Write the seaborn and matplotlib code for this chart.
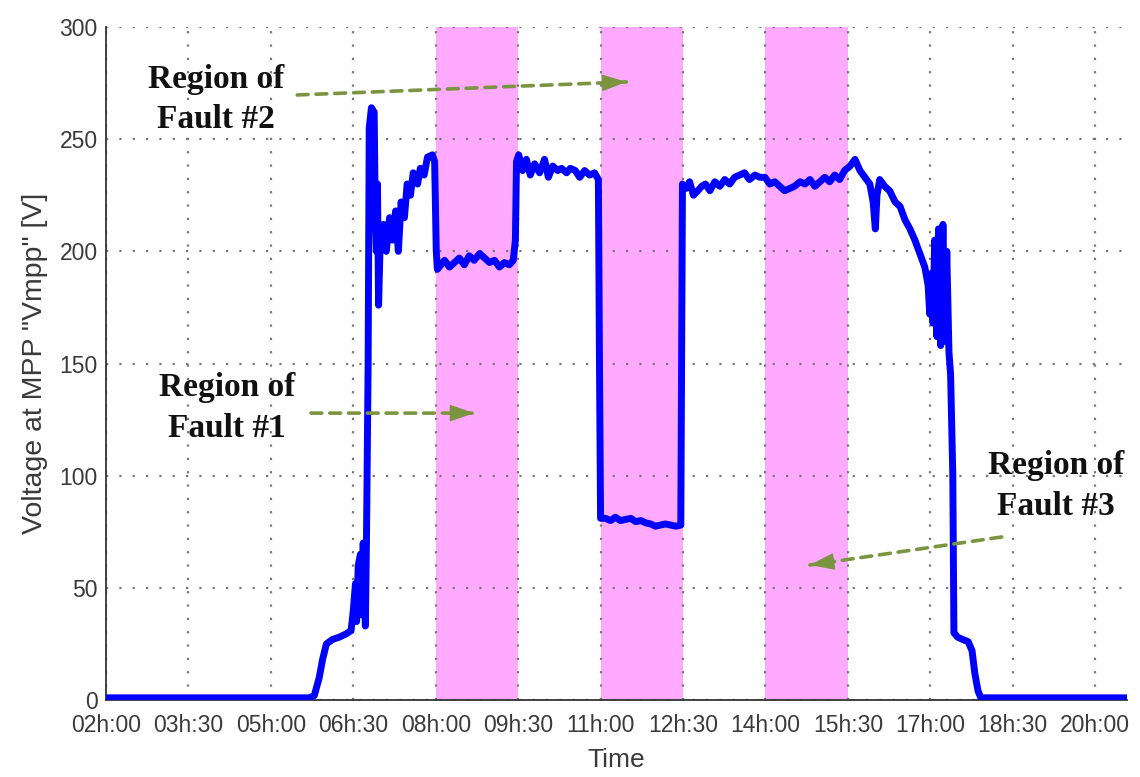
import matplotlib
matplotlib.use("Agg")
import matplotlib.pyplot as plt
import seaborn as sns
import pandas as pd

# Time of day in decimal hours and the measured MPP voltage
time_h = [
    2.00, 5.70, 5.79, 5.88, 5.94, 6.01, 6.12, 6.24, 6.37, 6.46,
    6.50, 6.54, 6.56, 6.59, 6.63, 6.65, 6.68, 6.72, 6.74, 6.77,
    6.79, 6.83, 6.88, 6.90, 6.92, 6.94, 6.96, 6.99, 7.05, 7.10,
    7.16, 7.21, 7.27, 7.32, 7.37, 7.43, 7.48, 7.54, 7.59, 7.67,
    7.72, 7.79, 7.85, 7.94, 7.98, 8.01, 8.03, 8.16, 8.25, 8.34,
    8.43, 8.52, 8.61, 8.70, 8.80, 8.89, 8.98, 9.07, 9.16, 9.25,
    9.34, 9.41, 9.45, 9.47, 9.51, 9.58, 9.65, 9.72, 9.80, 9.89,
    9.98, 10.05, 10.13, 10.22, 10.29, 10.38, 10.45, 10.54, 10.62, 10.71,
    10.80, 10.89, 10.96, 10.98, 11.00, 11.09, 11.18, 11.27, 11.36, 11.46,
    11.55, 11.64, 11.73, 11.82, 11.91, 12.00, 12.09, 12.18, 12.28, 12.37,
    12.46, 12.49, 12.55, 12.62, 12.69, 12.77, 12.84, 12.91, 12.99, 13.08,
    13.17, 13.26, 13.35, 13.44, 13.53, 13.62, 13.71, 13.81, 13.90, 13.99,
    14.08, 14.17, 14.26, 14.35, 14.44, 14.53, 14.63, 14.72, 14.81, 14.90,
    14.99, 15.08, 15.17, 15.26, 15.35, 15.44, 15.54, 15.63, 15.72, 15.81,
    15.90, 15.96, 16.00, 16.03, 16.08, 16.17, 16.26, 16.36, 16.45, 16.54,
    16.63, 16.72, 16.81, 16.90, 16.96, 16.99, 17.01, 17.05, 17.08, 17.12,
    17.15, 17.19, 17.23, 17.27, 17.30, 17.34, 17.37, 17.41, 17.43, 17.50,
    17.59, 17.69, 17.76, 17.81, 17.87, 17.92, 18.09, 20.58,
]
vmpp = [
    1, 1, 2, 10, 18, 25, 27, 28, 29.5, 31,
    40, 52, 35, 60, 65, 38, 70, 33, 72, 150,
    255, 264, 262, 215, 200, 230, 176, 205, 212, 200,
    215, 205, 218, 200, 222, 215, 230, 225, 235, 230,
    237, 234, 242, 243, 240, 200, 192, 196, 193, 195,
    197, 194, 198, 196, 199, 197, 195, 196, 193, 195,
    194, 196, 205, 240, 243, 236, 241, 234, 239, 235,
    241, 233, 238, 236, 237, 235, 237, 236, 233, 236,
    234, 235, 232, 150, 81, 81, 80, 81.5, 80, 80.5,
    81, 79.5, 80, 79, 78.5, 77.5, 78, 78.5, 78, 77.5,
    78, 230, 228, 231, 225, 227, 229, 230, 227, 231,
    229, 232, 230, 233, 234, 235, 232, 234, 233, 233,
    230, 231, 229, 227, 228, 229, 231, 230, 232, 229,
    231, 233, 231, 234, 232, 236, 238, 241, 236, 233,
    230, 222, 210, 225, 232, 229, 227, 222, 220, 214,
    210, 205, 199, 193, 185, 172, 190, 168, 205, 162,
    210, 158, 212, 160, 200, 155, 145, 100, 30, 28,
    27, 26, 22, 12, 4, 1, 1, 1,
]

# Fault windows (start, end) in hours
fault_windows = [(8.0, 9.5), (11.0, 12.5), (14.0, 15.5)]

# Axis ticks
x_ticks = [2.0, 3.5, 5.0, 6.5, 8.0, 9.5, 11.0, 12.5, 14.0, 15.5, 17.0, 18.5, 20.0]
x_tick_labels = ["02h:00", "03h:30", "05h:00", "06h:30", "08h:00", "09h:30",
                 "11h:00", "12h:30", "14h:00", "15h:30", "17h:00", "18h:30", "20h:00"]
y_ticks = [0, 50, 100, 150, 200, 250, 300]

# Annotations: label text, text position, arrow tail, arrow tip
annotations = [
    ("Region of\nFault #2", (4.00, 267.5), (5.48, 269.7), (11.47, 275.5)),
    ("Region of\nFault #1", (4.20, 130.2), (5.73, 127.9), (8.70, 127.9)),
    ("Region of\nFault #3", (19.29, 95.4), (18.30, 72.7), (14.81, 60.2)),
]

df = pd.DataFrame({"time": time_h, "vmpp": vmpp})

sns.set_theme(style="white")
plt.rcParams["font.family"] = ["Liberation Sans", "DejaVu Sans"]

fig = plt.figure(figsize=(11.4, 7.77), dpi=100)
ax = fig.add_axes([0.093, 0.099, 0.8956, 0.8663])

for start, end in fault_windows:
    ax.axvspan(start, end, color="#ffaaff", lw=0, zorder=0.3)

sns.lineplot(data=df, x="time", y="vmpp", ax=ax, color="#0000ff",
             linewidth=5.0, estimator=None, sort=False, zorder=3)

ax.set_xlim(2.0, 20.58)
ax.set_ylim(0, 300)
ax.set_xticks(x_ticks)
ax.set_xticklabels(x_tick_labels)
ax.set_yticks(y_ticks)

ax.set_axisbelow(True)
ax.grid(True, color="#777777", linestyle=(0, (1, 5)), linewidth=1.6)

for side in ("top", "right"):
    ax.spines[side].set_visible(False)
for side in ("left", "bottom"):
    ax.spines[side].set_color("#333333")
    ax.spines[side].set_linewidth(1.3)

ax.tick_params(axis="both", direction="in", length=6, width=1.2,
               color="#333333", labelsize=16.5, labelcolor="#3a3a3a")
ax.tick_params(axis="x", pad=10)
ax.tick_params(axis="y", pad=6)

ax.set_xlabel("Time", fontsize=19, color="#3a3a3a", labelpad=8)
ax.set_ylabel('Voltage at MPP "Vmpp" [V]', fontsize=20.5, color="#3a3a3a", labelpad=8)

arrow_color = "#7b9440"
for label, text_xy, tail, tip in annotations:
    ax.text(text_xy[0], text_xy[1], label, ha="center", va="center",
            fontsize=24, fontweight="bold", family="Liberation Serif",
            linespacing=1.38, color="#111111", zorder=5)
    # dashed shaft
    ax.annotate("", xy=tip, xytext=tail,
                arrowprops=dict(arrowstyle="-", color=arrow_color, lw=2.6,
                                linestyle=(0, (3, 2.2)), shrinkA=0, shrinkB=0),
                zorder=4)
    # solid head
    dx = tip[0] - tail[0]
    dy = tip[1] - tail[1]
    base = (tip[0] - 0.09 * dx, tip[1] - 0.09 * dy)
    ax.annotate("", xy=tip, xytext=base,
                arrowprops=dict(arrowstyle="-|>,head_length=1.3,head_width=0.45",
                                color=arrow_color, lw=1.0, shrinkA=0, shrinkB=0),
                zorder=4)

fig.savefig("out.png", dpi=100)
